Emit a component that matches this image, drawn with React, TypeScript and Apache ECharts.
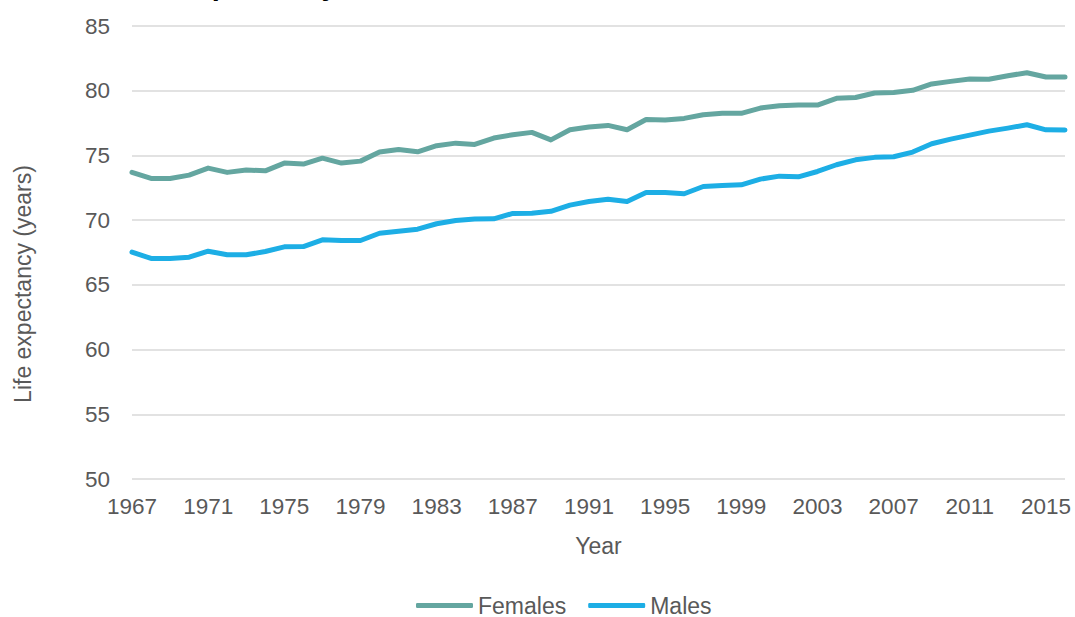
import React, { useEffect, useRef } from "react";
import * as echarts from "echarts";

const years = [
  "1967", "1968", "1969", "1970", "1971", "1972", "1973", "1974", "1975", "1976",
  "1977", "1978", "1979", "1980", "1981", "1982", "1983", "1984", "1985", "1986",
  "1987", "1988", "1989", "1990", "1991", "1992", "1993", "1994", "1995", "1996",
  "1997", "1998", "1999", "2000", "2001", "2002", "2003", "2004", "2005", "2006",
  "2007", "2008", "2009", "2010", "2011", "2012", "2013", "2014", "2015", "2016",
];

const females = [
  73.69, 73.22, 73.22, 73.48, 74.02, 73.69, 73.87, 73.81, 74.41, 74.33,
  74.79, 74.41, 74.56, 75.26, 75.46, 75.28, 75.75, 75.95, 75.85, 76.34,
  76.6, 76.78, 76.2, 76.98, 77.19, 77.32, 76.98, 77.78, 77.73, 77.86,
  78.14, 78.25, 78.25, 78.66, 78.84, 78.89, 78.89, 79.41, 79.48, 79.82,
  79.87, 80.03, 80.52, 80.72, 80.9, 80.88, 81.16, 81.39, 81.06, 81.06,
];

const males = [
  67.53, 67.04, 67.04, 67.14, 67.6, 67.32, 67.32, 67.58, 67.94, 67.96,
  68.48, 68.43, 68.43, 68.99, 69.15, 69.3, 69.72, 69.97, 70.08, 70.1,
  70.52, 70.54, 70.68, 71.16, 71.44, 71.62, 71.44, 72.14, 72.14, 72.04,
  72.6, 72.68, 72.73, 73.17, 73.4, 73.35, 73.76, 74.28, 74.66, 74.85,
  74.9, 75.26, 75.9, 76.26, 76.57, 76.88, 77.11, 77.37, 76.98, 76.96,
];

const seriesNames = ["Females", "Males"];
const yTitle = "Life expectancy (years)";
const xTitle = "Year";
const chartTitle = "Life expectancy at birth in Scotland, 1967-2016";

const FONT = "'Liberation Sans', Arial, Helvetica, sans-serif";
const GREY = "#595959";

export default function App() {
  const ref = useRef<HTMLDivElement>(null);

  useEffect(() => {
    if (!ref.current) return;
    const chart = echarts.init(ref.current, undefined, { renderer: "svg" });
    chart.setOption({
      animation: false,
      backgroundColor: "#ffffff",
      textStyle: { fontFamily: FONT },
      grid: { left: 132, right: 10, top: 26, bottom: 138 },
      graphic: [
        {
          type: "text",
          x: 120,
          y: -15,
          style: {
            text: chartTitle,
            font: `bold 29px ${FONT}`,
            fill: "#000000",
            verticalAlign: "middle",
            align: "left",
          },
        },
        {
          type: "text",
          x: 23,
          y: 284,
          rotation: Math.PI / 2,
          style: {
            text: yTitle,
            font: `23px ${FONT}`,
            fill: GREY,
            align: "center",
            verticalAlign: "middle",
          },
        },
      ],
      legend: {
        data: seriesNames,
        left: 411,
        top: 589,
        icon: "roundRect",
        itemWidth: 57,
        itemHeight: 5,
        itemGap: 22,
        textStyle: { color: GREY, fontSize: 23, fontFamily: FONT },
      },
      xAxis: {
        type: "category",
        data: years,
        boundaryGap: false,
        name: xTitle,
        nameLocation: "middle",
        nameGap: 55,
        nameTextStyle: { color: GREY, fontSize: 23, fontFamily: FONT },
        axisLine: { show: false },
        axisTick: { show: false },
        axisLabel: { interval: 3, color: GREY, fontSize: 22.5, fontFamily: FONT, margin: 16 },
        splitLine: { show: false },
      },
      yAxis: {
        type: "value",
        min: 50,
        max: 85,
        interval: 5,
        axisLine: { show: false },
        axisTick: { show: false },
        axisLabel: { color: GREY, fontSize: 22.5, fontFamily: FONT, margin: 22 },
        splitLine: { lineStyle: { color: "#D9D9D9", width: 1.5 } },
      },
      series: [
        {
          name: seriesNames[0],
          type: "line",
          data: females,
          symbol: "none",
          showSymbol: false,
          color: "#64A6A0",
          lineStyle: { width: 5, color: "#64A6A0", cap: "round", join: "round" },
        },
        {
          name: seriesNames[1],
          type: "line",
          data: males,
          symbol: "none",
          showSymbol: false,
          color: "#1DAEE5",
          lineStyle: { width: 5, color: "#1DAEE5", cap: "round", join: "round" },
        },
      ],
    });
    return () => chart.dispose();
  }, []);

  return (
    <div
      ref={ref}
      style={{ position: "absolute", left: 0, top: 0, width: 1075, height: 617 }}
    />
  );
}
